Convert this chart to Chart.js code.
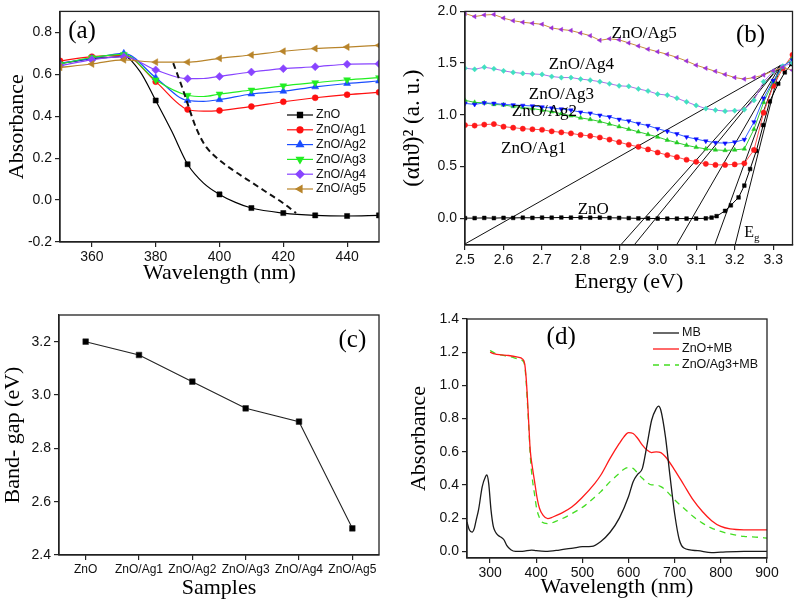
<!DOCTYPE html>
<html>
<head>
<meta charset="utf-8">
<script src="https://cdn.jsdelivr.net/npm/chart.js@4.4.1/dist/chart.umd.min.js"></script>
<style>
    body { margin: 0; background: #fff; }
    #wrap { position: relative; width: 797px; height: 609px; }
    canvas { position: absolute; }
</style>
</head>
<body>
<div id="wrap">
    <canvas id="chartA" width="398" height="300" style="left:0;top:0"></canvas>
    <canvas id="chartB" width="399" height="300" style="left:398px;top:0"></canvas>
    <canvas id="chartC" width="398" height="309" style="left:0;top:300px"></canvas>
    <canvas id="chartD" width="399" height="309" style="left:398px;top:300px"></canvas>
</div>
<script>
const samples = ['ZnO', 'ZnO/Ag1', 'ZnO/Ag2', 'ZnO/Ag3', 'ZnO/Ag4', 'ZnO/Ag5'];

// (a) absorbance vs wavelength
const wlZnO = [350, 360, 365, 370, 375, 380, 385, 390, 395, 400, 405, 410, 420, 430, 440, 450];
const absZnO = [0.65, 0.675, 0.68, 0.685, 0.615, 0.475, 0.329, 0.171, 0.081, 0.027, -0.011, -0.038, -0.062, -0.073, -0.076, -0.073];
const wlAg = [350, 360, 370, 380, 390, 395, 400, 410, 420, 430, 440, 450];
const absAg1 = [0.664, 0.684, 0.69, 0.565, 0.432, 0.424, 0.427, 0.446, 0.469, 0.488, 0.503, 0.514];
const absAg2 = [0.653, 0.676, 0.70, 0.584, 0.475, 0.471, 0.479, 0.506, 0.519, 0.54, 0.556, 0.568];
const absAg3 = [0.649, 0.68, 0.695, 0.573, 0.50, 0.494, 0.506, 0.525, 0.545, 0.56, 0.574, 0.584];
const absAg4 = [0.641, 0.669, 0.684, 0.621, 0.579, 0.58, 0.59, 0.611, 0.627, 0.636, 0.648, 0.65];
const absAg5 = [0.633, 0.649, 0.669, 0.658, 0.658, 0.665, 0.676, 0.692, 0.71, 0.723, 0.73, 0.738];
const dashWl = [385.5, 388, 390, 392, 394, 396, 400, 405, 410, 415, 420, 424];
const dashAbs = [0.653, 0.55, 0.46, 0.37, 0.30, 0.25, 0.19, 0.135, 0.085, 0.035, -0.015, -0.062];
const ticksAx = [360, 380, 400, 420, 440];
const ticksAy = [-0.2, 0, 0.2, 0.4, 0.6, 0.8];

// (b) Tauc plot
const eB = [2.5, 2.525, 2.55, 2.575, 2.6, 2.625, 2.65, 2.675, 2.7, 2.725, 2.75, 2.775, 2.8, 2.825, 2.85, 2.875, 2.9, 2.925, 2.95, 2.975,
    3.0, 3.025, 3.05, 3.075, 3.1, 3.125, 3.15, 3.175, 3.2, 3.225, 3.25, 3.275, 3.3, 3.325, 3.35];
const taucAg1 = [0.90, 0.895, 0.905, 0.91, 0.885, 0.875, 0.865, 0.86, 0.855, 0.84, 0.83, 0.82, 0.805, 0.795, 0.78, 0.76, 0.735, 0.71, 0.69, 0.665,
    0.635, 0.61, 0.59, 0.565, 0.545, 0.525, 0.515, 0.515, 0.52, 0.53, 0.66, 1.02, 1.28, 1.45, 1.58];
const taucAg2 = [1.14, 1.12, 1.115, 1.10, 1.095, 1.08, 1.07, 1.06, 1.045, 1.03, 1.01, 0.99, 0.97, 0.955, 0.935, 0.91, 0.885, 0.86, 0.835, 0.81,
    0.785, 0.755, 0.73, 0.705, 0.685, 0.67, 0.66, 0.655, 0.66, 0.67, 0.86, 1.12, 1.32, 1.46, 1.55];
const taucAg3 = [1.11, 1.10, 1.115, 1.11, 1.10, 1.095, 1.09, 1.085, 1.075, 1.065, 1.055, 1.045, 1.025, 1.015, 0.995, 0.98, 0.955, 0.94, 0.915, 0.895,
    0.865, 0.84, 0.815, 0.785, 0.765, 0.745, 0.73, 0.725, 0.735, 0.76, 0.93, 1.16, 1.33, 1.47, 1.53];
const taucAg4 = [1.45, 1.44, 1.46, 1.445, 1.425, 1.41, 1.40, 1.395, 1.39, 1.37, 1.36, 1.36, 1.345, 1.335, 1.32, 1.30, 1.28, 1.275, 1.25, 1.23,
    1.20, 1.19, 1.16, 1.125, 1.09, 1.06, 1.045, 1.035, 1.04, 1.05, 1.14, 1.32, 1.42, 1.47, 1.50];
const taucAg5 = [1.98, 1.95, 1.965, 1.97, 1.935, 1.91, 1.895, 1.885, 1.875, 1.84, 1.825, 1.815, 1.79, 1.765, 1.72, 1.735, 1.725, 1.695, 1.665, 1.635,
    1.61, 1.585, 1.555, 1.52, 1.48, 1.45, 1.42, 1.39, 1.36, 1.345, 1.36, 1.385, 1.425, 1.46, 1.43];
const eZnO = [2.5, 2.525, 2.55, 2.575, 2.6, 2.625, 2.65, 2.675, 2.7, 2.725, 2.75, 2.775, 2.8, 2.825, 2.85, 2.875, 2.9, 2.925, 2.95, 2.975,
    3.0, 3.025, 3.05, 3.075, 3.1, 3.125, 3.14, 3.153, 3.175, 3.19, 3.21, 3.225, 3.24, 3.256, 3.274, 3.291, 3.313, 3.33, 3.347];
const taucZnO = [0.0, 0.0, 0.002, 0.0, 0.003, 0.002, 0.004, 0.003, 0.005, 0.004, 0.006, 0.005, 0.006, 0.004, 0.005, 0.003, 0.002, 0.0, -0.002, -0.003,
    -0.004, -0.005, -0.005, -0.004, -0.004, -0.002, 0.005, 0.019, 0.07, 0.124, 0.2, 0.315, 0.475, 0.65, 0.9, 1.13, 1.30, 1.41, 1.49];
// fitted lines: lower end energies (at the bottom of the axis) and common upper point
const fitLowE = [2.5, 2.904, 2.939, 3.049, 3.148, 3.201];
const fitLowV = [-0.25, -0.26, -0.26, -0.26, -0.26, -0.26];
const fitTopE = 3.318;
const fitTopV = 1.475;
// label positions, same order as samples
const noteE = [2.833, 2.678, 2.706, 2.75, 2.802, 2.965];
const noteV = [0.086, 0.677, 1.03, 1.20, 1.487, 1.79];
const ticksBx = [2.5, 2.6, 2.7, 2.8, 2.9, 3.0, 3.1, 3.2, 3.3];
const ticksBy = [0, 0.5, 1.0, 1.5, 2.0];

// (c) band gap
const bandGap = [3.2, 3.15, 3.05, 2.95, 2.9, 2.5];
const ticksCy = [2.4, 2.6, 2.8, 3.0, 3.2];

// (d) MB spectra
const wlMB = [250, 255, 261, 266, 270, 275, 283, 290, 293, 297, 302, 307, 311, 318, 325, 330, 336, 345, 355, 370,
    390, 400, 420, 450, 480, 500, 520, 540, 560, 580, 600, 610, 620, 630, 640, 650, 660, 665, 670, 680,
    690, 700, 710, 720, 750, 780, 800, 850, 900];
const absMB = [0.177, 0.13, 0.116, 0.14, 0.19, 0.25, 0.39, 0.45, 0.46, 0.41, 0.25, 0.15, 0.12, 0.095, 0.083, 0.07, 0.036, 0.01, 0.0, 0.0,
    0.008, 0.004, 0.0, 0.008, 0.02, 0.028, 0.03, 0.06, 0.115, 0.2, 0.33, 0.42, 0.465, 0.50, 0.64, 0.79, 0.86, 0.875, 0.85, 0.69,
    0.45, 0.225, 0.07, 0.02, 0.004, -0.008, -0.005, 0.0, 0.0];
const wlZnOMB = [300, 310, 320, 340, 360, 370, 375, 378, 381, 384, 387, 392, 397, 402, 407, 415, 425, 436, 455, 477,
    498, 527, 540, 560, 580, 590, 600, 610, 620, 630, 640, 650, 660, 670, 680, 700, 720, 740, 760, 780,
    800, 820, 850, 880, 900];
const absZnOMB = [1.20, 1.19, 1.185, 1.18, 1.17, 1.16, 1.13, 1.05, 0.92, 0.76, 0.61, 0.50, 0.41, 0.32, 0.26, 0.217, 0.197, 0.207, 0.23, 0.267,
    0.32, 0.41, 0.46, 0.56, 0.65, 0.69, 0.715, 0.71, 0.68, 0.64, 0.61, 0.595, 0.60, 0.595, 0.57, 0.49, 0.40, 0.31, 0.24, 0.185,
    0.15, 0.135, 0.13, 0.13, 0.13];
const wlAgMB = [300, 310, 320, 340, 360, 370, 375, 378, 381, 384, 387, 391, 396, 401, 406, 412, 425, 448, 477, 506,
    527, 540, 560, 580, 590, 600, 610, 620, 630, 640, 650, 660, 670, 680, 700, 720, 740, 760, 780, 800,
    820, 850, 880, 900];
const absAgMB = [1.21, 1.195, 1.185, 1.175, 1.16, 1.15, 1.12, 1.03, 0.89, 0.74, 0.58, 0.45, 0.35, 0.257, 0.21, 0.177, 0.167, 0.187, 0.227, 0.277,
    0.328, 0.36, 0.42, 0.47, 0.495, 0.505, 0.50, 0.47, 0.44, 0.415, 0.40, 0.40, 0.39, 0.37, 0.31, 0.26, 0.21, 0.17, 0.14, 0.12,
    0.105, 0.09, 0.085, 0.08];
const ticksDx = [300, 400, 500, 600, 700, 800, 900];
const ticksDy = [0, 0.2, 0.4, 0.6, 0.8, 1.0, 1.2, 1.4];

const SANS = "'Liberation Sans', Arial, sans-serif";
const SERIF = "'Liberation Serif', 'Times New Roman', serif";

Chart.defaults.animation = false;
Chart.defaults.plugins.legend.display = false;
Chart.defaults.plugins.tooltip.enabled = false;

function pts(xs, ys) {
    return xs.map((x, i) => ({x: x, y: ys[i]}));
}

function makeAxis(o) {
    const ticks = {
        color: '#111', padding: o.horizontal ? 2 : 3, autoSkip: false, maxRotation: 0,
        font: {family: SANS, size: o.tickSize || 14}
    };
    if (o.format) ticks.callback = o.format;
    const axis = {
        type: o.type || 'linear',
        offset: o.offset || false,
        afterFit: (scale) => {
            if (o.horizontal) scale.height = o.size; else scale.width = o.size;
        },
        border: {display: true, color: '#222', width: 1.3},
        grid: {display: true, drawOnChartArea: false, drawTicks: true, tickLength: 5, color: '#222', lineWidth: 1.2},
        ticks: ticks,
        title: {
            display: true, text: o.title, color: '#000',
            font: {family: SERIF, size: o.titleSize || 22},
            padding: o.horizontal ? {top: 0, bottom: o.titlePad} : {top: o.titlePad, bottom: 0}
        }
    };
    if (o.min !== undefined) axis.min = o.min;
    if (o.max !== undefined) axis.max = o.max;
    if (o.ticks) axis.afterBuildTicks = (scale) => { scale.ticks = o.ticks.map(v => ({value: v})); };
    return axis;
}

// frame round the plot area (top and right sides too)
Chart.register({
    id: 'frame',
    afterDraw(chart) {
        const a = chart.chartArea;
        const ctx = chart.ctx;
        ctx.save();
        ctx.strokeStyle = '#222';
        ctx.lineWidth = 1.3;
        ctx.strokeRect(a.left, a.top, a.right - a.left, a.bottom - a.top);
        ctx.restore();
    }
});

function notesPlugin(notes) {
    return {
        id: 'notes',
        afterDraw(chart) {
            const ctx = chart.ctx;
            ctx.save();
            ctx.fillStyle = '#000';
            ctx.textBaseline = 'middle';
            notes.forEach(n => {
                const px = chart.scales.x.getPixelForValue(n.x);
                const py = chart.scales.y.getPixelForValue(n.y);
                ctx.font = n.font;
                ctx.textAlign = n.sub ? 'left' : 'center';
                ctx.fillText(n.text, px, py);
                if (n.sub) {
                    const w = ctx.measureText(n.text).width;
                    ctx.font = n.subFont;
                    ctx.fillText(n.sub, px + w, py + 5);
                }
            });
            ctx.restore();
        }
    };
}

function drawLegend(ctx, datasets, x0, x1, y0, step) {
    let y = y0;
    ctx.save();
    datasets.forEach(ds => {
        ctx.strokeStyle = ds.borderColor;
        ctx.lineWidth = ds.borderWidth;
        ctx.setLineDash(ds.borderDash || []);
        ctx.beginPath();
        ctx.moveTo(x0, y);
        ctx.lineTo(x1, y);
        ctx.stroke();
        ctx.setLineDash([]);
        if (ds.markerSize) {
            ctx.fillStyle = ds.borderColor;
            Chart.helpers.drawPoint(ctx, {
                pointStyle: ds.pointStyle, rotation: ds.pointRotation || 0,
                radius: ds.markerSize, borderWidth: 0.5
            }, (x0 + x1) / 2, y);
        }
        ctx.fillStyle = '#111';
        ctx.font = '12.5px ' + SANS;
        ctx.textAlign = 'left';
        ctx.textBaseline = 'middle';
        ctx.fillText(ds.label, x1 + 3, y);
        y += step;
    });
    ctx.restore();
}

function seriesA(label, xs, ys, color, style, rot, r) {
    return {
        label: label,
        showInLegend: true,
        markerSize: r,
        data: pts(xs, ys),
        borderColor: color,
        backgroundColor: color,
        borderWidth: 1.2,
        pointStyle: style,
        pointRotation: rot,
        pointRadius: ctx => (ctx.raw && ctx.raw.x % 10 === 0 ? r : 0),
        pointBorderWidth: 0.5,
        cubicInterpolationMode: 'monotone'
    };
}

function seriesB(label, xs, ys, line, marker, style, rot) {
    return {
        label: label,
        data: pts(xs, ys),
        borderColor: line,
        borderWidth: 1,
        pointStyle: style,
        pointRotation: rot,
        pointRadius: 2.6,
        pointBackgroundColor: marker,
        pointBorderColor: marker,
        pointBorderWidth: 0.5
    };
}

const fmt1 = v => v.toFixed(1);
const fmt0 = v => String(v);

// ---------- (a) ----------
new Chart(document.getElementById('chartA'), {
    type: 'line',
    data: {
        datasets: [
            {
                label: '', data: pts(dashWl, dashAbs), borderColor: '#111', borderWidth: 2,
                borderDash: [6, 4], pointRadius: 0, cubicInterpolationMode: 'monotone'
            },
            seriesA(samples[5], wlAg, absAg5, '#b8842a', 'triangle', -90, 4),
            seriesA(samples[4], wlAg, absAg4, '#8844ff', 'rectRot', 0, 4),
            seriesA(samples[3], wlAg, absAg3, '#22ee22', 'triangle', 180, 4),
            seriesA(samples[2], wlAg, absAg2, '#1a4dff', 'triangle', 0, 4),
            seriesA(samples[1], wlAg, absAg1, '#ff1010', 'circle', 0, 3),
            seriesA(samples[0], wlZnO, absZnO, '#000000', 'rect', 0, 3.6)
        ]
    },
    options: {
        responsive: false,
        layout: {padding: {top: 4, right: 19, bottom: 0, left: 0}},
        scales: {
            x: makeAxis({min: 350, max: 450, ticks: ticksAx, format: fmt0, title: 'Wavelength (nm)', titlePad: 14, size: 58, horizontal: true}),
            y: makeAxis({min: -0.2, max: 0.9, ticks: ticksAy, format: fmt1, title: 'Absorbance', titlePad: 4, size: 60})
        }
    },
    plugins: [
        notesPlugin([{text: '(a)', x: 356.9, y: 0.803, font: '25px ' + SERIF}]),
        {
            id: 'legendA',
            afterDraw(chart) {
                // ZnO first, as in the figure
                const items = chart.data.datasets.filter(d => d.showInLegend).slice().reverse();
                drawLegend(chart.ctx, items, 287, 313, 115, 14.8);
            }
        }
    ]
});

// ---------- (b) ----------
const fitLines = fitLowE.map((e, i) => ({
    label: '', data: [{x: e, y: fitLowV[i]}, {x: fitTopE, y: fitTopV}],
    borderColor: '#111', borderWidth: 1, pointRadius: 0
}));

new Chart(document.getElementById('chartB'), {
    type: 'line',
    data: {
        datasets: [
            seriesB(samples[5], eB, taucAg5, '#c8903a', '#9a30d8', 'triangle', -90),
            seriesB(samples[4], eB, taucAg4, '#b070e8', '#40e0c0', 'rectRot', 0),
            seriesB(samples[3], eB, taucAg3, '#3060ff', '#0a0aff', 'triangle', 180),
            seriesB(samples[2], eB, taucAg2, '#33cc33', '#22cc22', 'triangle', 0),
            seriesB(samples[1], eB, taucAg1, '#ff5050', '#ff1a1a', 'circle', 0),
            seriesB(samples[0], eZnO, taucZnO, '#000000', '#000000', 'rect', 0)
        ].concat(fitLines)
    },
    options: {
        responsive: false,
        layout: {padding: {top: 8, right: 3, bottom: 0, left: 0}},
        scales: {
            x: makeAxis({min: 2.5, max: 3.35, ticks: ticksBx, format: fmt1, title: 'Energy (eV)', titlePad: 5, size: 55, horizontal: true}),
            y: makeAxis({min: -0.26, max: 2.0, ticks: ticksBy, format: fmt1, title: '(\u03B1h\u03D1)\u00B2 (a. u.)', titleSize: 23, titlePad: 1, size: 67})
        }
    },
    plugins: [notesPlugin(
        samples.map((s, i) => ({text: s, x: noteE[i], y: noteV[i], font: '17px ' + SERIF}))
            .concat([
                {text: '(b)', x: 3.241, y: 1.77, font: '25px ' + SERIF},
                {text: 'E', sub: 'g', x: 3.225, y: -0.143, font: '16px ' + SERIF, subFont: '11px ' + SERIF}
            ])
    )]
});

// ---------- (c) ----------
new Chart(document.getElementById('chartC'), {
    type: 'line',
    data: {
        labels: samples,
        datasets: [{
            label: 'Band gap', data: bandGap, borderColor: '#222', borderWidth: 1.1,
            pointStyle: 'rect', pointRadius: 4, backgroundColor: '#000', pointBorderWidth: 0.5
        }]
    },
    options: {
        responsive: false,
        layout: {padding: {top: 15, right: 19, bottom: 0, left: 0}},
        scales: {
            x: makeAxis({type: 'category', offset: true, tickSize: 12, title: 'Samples', titlePad: 8, size: 54, horizontal: true}),
            y: makeAxis({min: 2.4, max: 3.3, ticks: ticksCy, format: fmt1, title: 'Band- gap (eV)', titlePad: 0, size: 59})
        }
    },
    plugins: [notesPlugin([{text: '(c)', x: 5, y: 3.206, font: '25px ' + SERIF}])]
});

// ---------- (d) ----------
new Chart(document.getElementById('chartD'), {
    type: 'line',
    data: {
        datasets: [
            {label: 'MB', data: pts(wlMB, absMB), borderColor: '#1a1a1a', borderWidth: 1.3, pointRadius: 0, cubicInterpolationMode: 'monotone'},
            {label: 'ZnO+MB', data: pts(wlZnOMB, absZnOMB), borderColor: '#ff1a1a', borderWidth: 1.3, pointRadius: 0, cubicInterpolationMode: 'monotone'},
            {label: 'ZnO/Ag3+MB', data: pts(wlAgMB, absAgMB), borderColor: '#44dd22', borderWidth: 1.3, borderDash: [6, 5], pointRadius: 0, cubicInterpolationMode: 'monotone'}
        ]
    },
    options: {
        responsive: false,
        layout: {padding: {top: 19, right: 30, bottom: 0, left: 0}},
        scales: {
            x: makeAxis({min: 250, max: 900, ticks: ticksDx, format: fmt0, title: 'Wavelength (nm)', titlePad: 9, size: 51, horizontal: true}),
            y: makeAxis({min: -0.04, max: 1.4, ticks: ticksDy, format: fmt1, title: 'Absorbance', titlePad: 8, size: 69})
        }
    },
    plugins: [
        notesPlugin([{text: '(d)', x: 454, y: 1.29, font: '25px ' + SERIF}]),
        {
            id: 'legendD',
            afterDraw(chart) {
                drawLegend(chart.ctx, chart.data.datasets, 255, 281, 33, 16);
            }
        }
    ]
});
</script>
</body>
</html>
